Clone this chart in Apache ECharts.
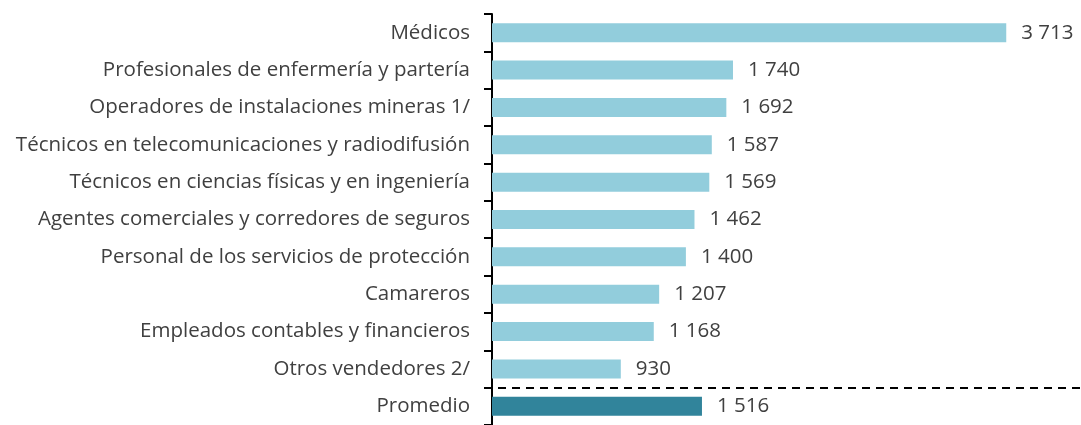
<!DOCTYPE html>
<html>
<head>
<meta charset="utf-8">
<script src="https://cdn.jsdelivr.net/npm/echarts@6/dist/echarts.min.js"></script>
<style>
  html, body { margin: 0; padding: 0; background: #fff; }
  #chart { width: 1081px; height: 425px; }
</style>
</head>
<body>
<div id="chart"></div>
<script>
const categories = [
    'Médicos',
    'Profesionales de enfermería y partería',
    'Operadores de instalaciones mineras 1/',
    'Técnicos en telecomunicaciones y radiodifusión',
    'Técnicos en ciencias físicas y en ingeniería',
    'Agentes comerciales y corredores de seguros',
    'Personal de los servicios de protección',
    'Camareros',
    'Empleados contables y financieros',
    'Otros vendedores 2/',
    'Promedio'
];
const values = [3713, 1740, 1692, 1587, 1569, 1462, 1400, 1207, 1168, 930, 1516];
const averageName = 'Promedio';

const lightColor = '#92CDDC';
const darkColor = '#31849B';

function fmt(v) {
    return String(v).replace(/\B(?=(\d{3})+(?!\d))/g, ' ');
}

const chart = echarts.init(document.getElementById('chart'));

const option = {
    animation: false,
    textStyle: { fontFamily: 'Open Sans' },
    grid: { left: 492, top: 14, width: 554, height: 416 },
    xAxis: {
        type: 'value',
        min: 0,
        max: 4000,
        show: false
    },
    yAxis: {
        type: 'category',
        data: categories,
        inverse: true,
        axisLine: { show: true, lineStyle: { color: '#000', width: 2 } },
        axisTick: { show: true, length: 8, lineStyle: { color: '#000', width: 2 } },
        axisLabel: { color: '#404040', fontSize: 20.5, margin: 22 }
    },
    series: [{
        type: 'bar',
        barWidth: 19,
        data: values.map((v, i) => ({
            value: v,
            itemStyle: { color: categories[i] === averageName ? darkColor : lightColor }
        })),
        label: {
            show: true,
            position: 'right',
            distance: 15,
            color: '#404040',
            fontSize: 20.5,
            formatter: p => fmt(p.value)
        }
    }]
};
chart.setOption(option);

// dashed separator between the last occupation and the average
const idx = categories.indexOf(averageName);
const yA = chart.convertToPixel({ yAxisIndex: 0 }, categories[idx - 1]);
const yB = chart.convertToPixel({ yAxisIndex: 0 }, categories[idx]);
const ySep = Math.round((yA + yB) / 2);
chart.setOption({
    graphic: [{
        type: 'line',
        shape: { x1: 484, y1: ySep, x2: 1081, y2: ySep },
        style: { stroke: '#000', lineWidth: 2, lineDash: [8, 6] },
        z: 10
    }]
});
</script>
</body>
</html>
